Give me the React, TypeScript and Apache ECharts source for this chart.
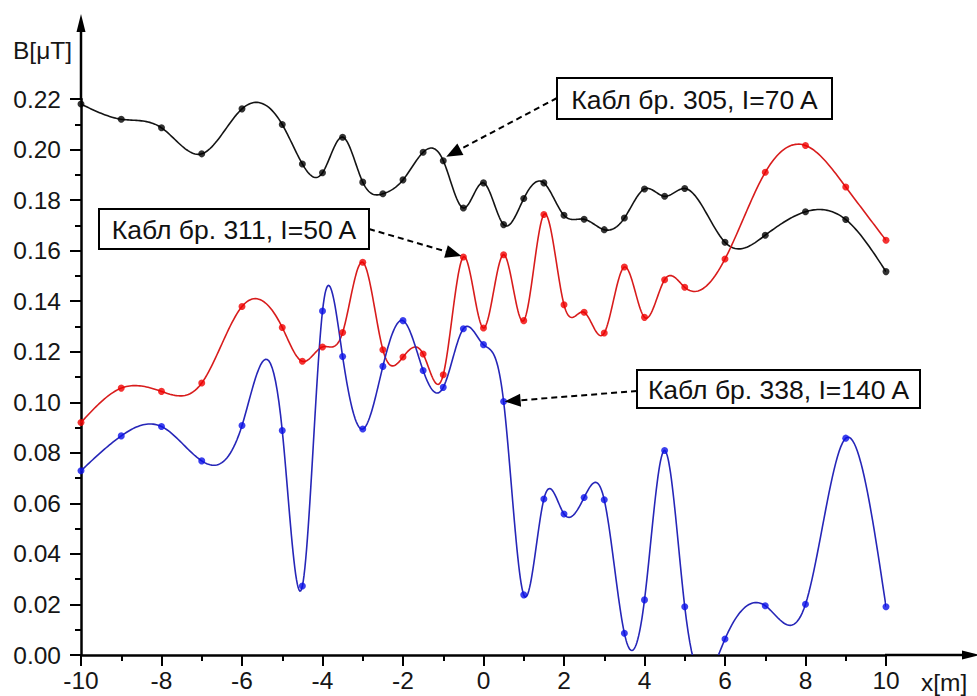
import React, { useEffect, useRef } from "react";
import * as echarts from "echarts";

// Measurement positions along the profile, x [m]
const positions = [
  -10, -9, -8, -7, -6, -5, -4.5, -4, -3.5, -3, -2.5, -2, -1.5, -1, -0.5, 0,
  0.5, 1, 1.5, 2, 2.5, 3, 3.5, 4, 4.5, 5, 6, 7, 8, 9, 10,
];

// Кабл бр. 305, I=70 A  (B in μT)
const cable305 = [
  0.218, 0.212, 0.2086, 0.1983, 0.2161, 0.2099, 0.1943, 0.1908, 0.2049, 0.1871,
  0.1825, 0.188, 0.1989, 0.1956, 0.1769, 0.1868, 0.1703, 0.1806, 0.1868, 0.174,
  0.1724, 0.1683, 0.1729, 0.1844, 0.1815, 0.1846, 0.1633, 0.1661, 0.1754, 0.1723,
  0.1517,
];

// Кабл бр. 311, I=50 A
const cable311 = [
  0.092, 0.1056, 0.1043, 0.1076, 0.1379, 0.1296, 0.1162, 0.1219, 0.1276, 0.1554,
  0.1208, 0.1179, 0.1191, 0.1109, 0.1575, 0.1294, 0.1584, 0.1323, 0.1743, 0.1386,
  0.1356, 0.1274, 0.1535, 0.1336, 0.1485, 0.1455, 0.1567, 0.191, 0.2016, 0.1852,
  0.1641,
];

// Кабл бр. 338, I=140 A
const cable338 = [
  0.0729, 0.0867, 0.0904, 0.0768, 0.0908, 0.0888, 0.0273, 0.1361, 0.1181, 0.0894,
  0.1142, 0.1323, 0.1126, 0.1059, 0.1291, 0.1228, 0.1003, 0.0238, 0.0617, 0.0558,
  0.0623, 0.0614, 0.0086, 0.0218, 0.0809, 0.0191, 0.0063, 0.0195, 0.0201, 0.0858,
  0.0191,
];

const seriesLabels = ["Кабл бр. 305, I=70 A", "Кабл бр. 311, I=50 A", "Кабл бр. 338, I=140 A"];
const yTickDigits = 2;

const FONT = "'Liberation Sans', Arial, Helvetica, sans-serif";
const GRID = { left: 81, top: 99, width: 805, height: 556 };

// natural cubic spline connecting the measured points (rendering of the line)
function splineCurve(xs: number[], ys: number[], steps: number) {
  const n = xs.length;
  const h: number[] = [];
  for (let i = 0; i < n - 1; i++) h.push(xs[i + 1] - xs[i]);
  const M = new Array(n).fill(0);
  const a = new Array(n).fill(0), b = new Array(n).fill(1), c = new Array(n).fill(0), d = new Array(n).fill(0);
  for (let i = 1; i < n - 1; i++) {
    a[i] = h[i - 1];
    b[i] = 2 * (h[i - 1] + h[i]);
    c[i] = h[i];
    d[i] = 6 * ((ys[i + 1] - ys[i]) / h[i] - (ys[i] - ys[i - 1]) / h[i - 1]);
  }
  // Thomas algorithm
  const cp = new Array(n).fill(0), dp = new Array(n).fill(0);
  cp[0] = 0; dp[0] = 0;
  for (let i = 1; i < n; i++) {
    const m = b[i] - a[i] * cp[i - 1];
    cp[i] = c[i] / m;
    dp[i] = (d[i] - a[i] * dp[i - 1]) / m;
  }
  M[n - 1] = 0;
  for (let i = n - 2; i >= 1; i--) M[i] = dp[i] - cp[i] * M[i + 1];
  M[0] = 0;
  const out: number[][] = [];
  for (let i = 0; i < n - 1; i++) {
    const hi = h[i];
    for (let s = 0; s < steps; s++) {
      const x = xs[i] + (hi * s) / steps;
      const A = xs[i + 1] - x, B = x - xs[i];
      const y =
        (M[i] * A * A * A) / (6 * hi) +
        (M[i + 1] * B * B * B) / (6 * hi) +
        (ys[i] / hi - (M[i] * hi) / 6) * A +
        (ys[i + 1] / hi - (M[i + 1] * hi) / 6) * B;
      out.push([x, y]);
    }
  }
  out.push([xs[n - 1], ys[n - 1]]);
  return out;
}

function curveSeries(values: number[], color: string) {
  const curve = splineCurve(positions, values, 24);
  return {
    type: "custom",
    coordinateSystem: "cartesian2d",
    clip: true,
    z: 2,
    data: positions.map((x, i) => [x, values[i]]),
    encode: { x: 0, y: 1 },
    renderItem: (params: any, api: any) => {
      if (params.dataIndex !== 0) return null;
      const pts = curve.map((p) => api.coord(p));
      return {
        type: "polyline",
        silent: true,
        shape: { points: pts },
        style: { stroke: color, lineWidth: 1.6, fill: "none" },
      };
    },
  };
}

function markerSeries(values: number[], color: string) {
  return {
    type: "scatter",
    z: 3,
    symbol: "circle",
    symbolSize: 7,
    itemStyle: { color },
    data: positions.map((x, i) => [x, values[i]]),
    clip: false,
  };
}

export default function App() {
  const ref = useRef<HTMLDivElement>(null);
  useEffect(() => {
    const el = ref.current!;
    const chart = echarts.init(el, null, { renderer: "svg" });
    const axisLabelStyle = { fontFamily: FONT, fontSize: 24.5, color: "#161616" };
    chart.setOption({
      animation: false,
      backgroundColor: "#ffffff",
      grid: { ...GRID, containLabel: false, outerBoundsMode: "none" },
      xAxis: {
        type: "value",
        min: -10,
        max: 10,
        interval: 2,
        axisLine: { show: true, onZero: false, lineStyle: { color: "#000", width: 2.5 } },
        axisTick: { show: true, length: 11, lineStyle: { color: "#000", width: 2 } },
        minorTick: { show: true, splitNumber: 2, length: 6, lineStyle: { color: "#000", width: 2 } },
        splitLine: { show: false },
        axisLabel: { ...axisLabelStyle, margin: 13, hideOverlap: false, showMinLabel: true, showMaxLabel: true },
      },
      yAxis: {
        type: "value",
        min: 0,
        max: 0.22,
        interval: 0.02,
        axisLine: { show: true, onZero: false, lineStyle: { color: "#000", width: 2.5 } },
        axisTick: { show: true, length: 11, lineStyle: { color: "#000", width: 2 } },
        minorTick: { show: true, splitNumber: 2, length: 6, lineStyle: { color: "#000", width: 2 } },
        splitLine: { show: false },
        axisLabel: {
          ...axisLabelStyle,
          margin: 20,
          hideOverlap: false,
          showMinLabel: true,
          showMaxLabel: true,
          formatter: (v: number) => v.toFixed(yTickDigits),
        },
      },
      series: [
        curveSeries(cable305, "#141414"),
        curveSeries(cable311, "#d81c1c"),
        curveSeries(cable338, "#2626b8"),
        markerSeries(cable305, "#000000"),
        markerSeries(cable311, "#f00000"),
        markerSeries(cable338, "#0a10e8"),
      ],
    });

    const px = (x: number, y: number) => chart.convertToPixel({ gridIndex: 0 }, [x, y]) as number[];
    const valueAt = (arr: number[], x: number) => arr[positions.indexOf(x)];

    const arrow = (start: number[], tip: number[]) => {
      const dx = tip[0] - start[0], dy = tip[1] - start[1];
      const len = Math.hypot(dx, dy);
      const ux = dx / len, uy = dy / len;
      const L = 16, W = 6.5;
      const bx = tip[0] - ux * L, by = tip[1] - uy * L;
      return [
        {
          type: "line",
          silent: true,
          shape: { x1: start[0], y1: start[1], x2: bx, y2: by },
          style: { stroke: "#000", lineWidth: 2, lineDash: [6, 4] },
          z: 10,
        },
        {
          type: "polygon",
          silent: true,
          shape: { points: [tip, [bx - uy * W, by + ux * W], [bx + uy * W, by - ux * W]] },
          style: { fill: "#000" },
          z: 10,
        },
      ];
    };

    const box = (x: number, y: number, w: number, hgt: number, text: string) => [
      {
        type: "rect",
        silent: true,
        shape: { x, y, width: w, height: hgt },
        style: { fill: "#fff", stroke: "#000", lineWidth: 2 },
        z: 11,
      },
      {
        type: "text",
        silent: true,
        x: x + w / 2,
        y: y + hgt / 2 + 1,
        style: {
          text,
          fontFamily: FONT,
          fontSize: 26.5,
          fill: "#111",
          textAlign: "center",
          align: "center",
          textVerticalAlign: "middle",
          verticalAlign: "middle",
        },
        z: 12,
      },
    ];

    const p305 = px(-1, valueAt(cable305, -1));
    const p311 = px(-0.5, valueAt(cable311, -0.5));
    const p338 = px(0.5, valueAt(cable338, 0.5));

    const gl = GRID.left, gb = GRID.top + GRID.height, gr = GRID.left + GRID.width;

    chart.setOption({
      graphic: [
        // axis extensions with arrowheads
        { type: "line", silent: true, shape: { x1: gl, y1: GRID.top + 1, x2: gl, y2: 28 }, style: { stroke: "#000", lineWidth: 2.5 } },
        { type: "polygon", silent: true, shape: { points: [[gl, 14], [gl - 4.5, 32], [gl + 4.5, 32]] }, style: { fill: "#000" } },
        { type: "line", silent: true, shape: { x1: gr - 1, y1: gb, x2: 966, y2: gb }, style: { stroke: "#000", lineWidth: 2.5 } },
        { type: "polygon", silent: true, shape: { points: [[980, gb], [962, gb - 4.5], [962, gb + 4.5]] }, style: { fill: "#000" } },
        // axis names
        {
          type: "text", silent: true, x: 13, y: 50,
          style: { text: "B[μT]", fontFamily: FONT, fontSize: 24.5, fill: "#161616", textAlign: "left", align: "left", textVerticalAlign: "middle", verticalAlign: "middle" },
        },
        {
          type: "text", silent: true, x: 921, y: 682,
          style: { text: "x[m]", fontFamily: FONT, fontSize: 24.5, fill: "#161616", textAlign: "left", align: "left", textVerticalAlign: "middle", verticalAlign: "middle" },
        },
        // annotations
        ...arrow([557, 98], [p305[0] + 3, p305[1] - 4]),
        ...arrow([369, 229], [p311[0] - 2, p311[1] - 1]),
        ...arrow([637, 391], [p338[0] + 1, p338[1]]),
        ...box(557, 78, 275, 41, seriesLabels[0]),
        ...box(99, 209, 270, 40, seriesLabels[1]),
        ...box(637, 370, 283, 38, seriesLabels[2]),
      ],
    });

    return () => chart.dispose();
  }, []);

  return <div ref={ref} style={{ position: "fixed", left: 0, top: 0, width: 977, height: 696 }} />;
}
